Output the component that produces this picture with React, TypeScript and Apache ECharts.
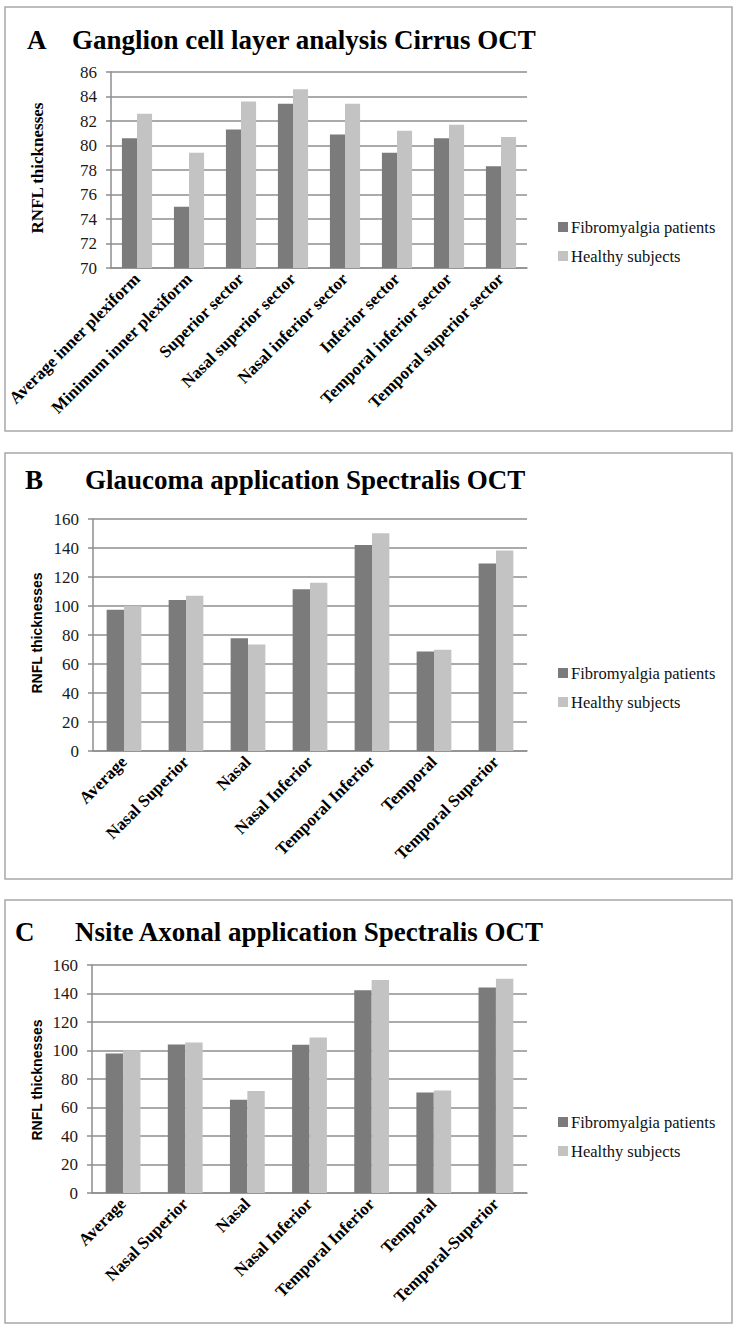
import React, { useEffect, useRef } from "react";
import * as echarts from "echarts";

const catsA = [
  "Average inner plexiform",
  "Minimum inner plexiform",
  "Superior sector",
  "Nasal superior sector",
  "Nasal inferior sector",
  "Inferior sector",
  "Temporal inferior sector",
  "Temporal superior sector",
];
const fibroA = [80.6, 75.0, 81.3, 83.4, 80.9, 79.4, 80.6, 78.3];
const healthyA = [82.6, 79.4, 83.6, 84.6, 83.4, 81.2, 81.7, 80.7];

const catsB = ["Average", "Nasal Superior", "Nasal", "Nasal Inferior", "Temporal Inferior", "Temporal", "Temporal Superior"];
const fibroB = [97.5, 104.2, 77.7, 111.5, 142.1, 68.7, 129.3];
const healthyB = [100.0, 107.1, 73.4, 116.1, 150.1, 69.9, 138.3];

const catsC = ["Average", "Nasal Superior", "Nasal", "Nasal Inferior", "Temporal Inferior", "Temporal", "Temporal-Superior"];
const fibroC = [97.9, 104.2, 65.4, 104.0, 142.3, 70.5, 144.2];
const healthyC = [100.2, 105.6, 71.5, 109.1, 149.4, 71.9, 150.3];

const seriesNames = ["Fibromyalgia patients", "Healthy subjects"];
const titles = [
  "Ganglion cell layer analysis Cirrus OCT",
  "Glaucoma application Spectralis OCT",
  "Nsite Axonal application Spectralis OCT",
];
const letters = ["A", "B", "C"];
const yTitle = "RNFL thicknesses";

const SERIF = "Liberation Serif";
const SANS = "Liberation Sans";
const DARK = "#7b7b7b";
const LIGHT = "#c3c3c3";
const GRIDC = "#8e8e8e";

export default function App() {
  const ref = useRef<HTMLDivElement>(null);
  useEffect(() => {
    document.body.style.margin = "0";
    const chart = echarts.init(ref.current!, null, { renderer: "svg" });

    const grids = [
      { left: 111, top: 72, width: 416, height: 196 },
      { left: 93, top: 519, width: 434, height: 232 },
      { left: 92, top: 965, width: 435, height: 228 },
    ];
    const cats = [catsA, catsB, catsC];
    const fibro = [fibroA, fibroB, fibroC];
    const healthy = [healthyA, healthyB, healthyC];
    const yRanges = [
      { min: 70, max: 86, interval: 2 },
      { min: 0, max: 160, interval: 20 },
      { min: 0, max: 160, interval: 20 },
    ];
    const legendTops = [213, 659, 1108];
    const titleY = [40, 480, 932];
    const letterX = [27, 25, 15];
    const titleX = [72, 85, 75];
    const borders = [
      [5, 7, 732, 431],
      [5, 453, 732, 879],
      [5, 900, 732, 1323],
    ];
    const yTitleCenters = [168, 633, 1080];
    const catGaps = ["42%", "44%", "44%"];

    const graphic: any[] = [];
    borders.forEach(([x1, y1, x2, y2]) => {
      graphic.push({
        type: "rect",
        shape: { x: x1, y: y1, width: x2 - x1, height: y2 - y1 },
        style: { fill: "none", stroke: "#a8a8a8", lineWidth: 1.5 },
        silent: true,
      });
    });
    for (let i = 0; i < 3; i++) {
      graphic.push({
        type: "text",
        x: letterX[i],
        y: titleY[i],
        style: { text: letters[i], fontFamily: SERIF, fontWeight: "bold", fontSize: 27, fill: "#000", verticalAlign: "middle" },
      });
      graphic.push({
        type: "text",
        x: titleX[i],
        y: titleY[i],
        style: { text: titles[i], fontFamily: SERIF, fontWeight: "bold", fontSize: 27, fill: "#000", verticalAlign: "middle" },
      });
      graphic.push({
        type: "text",
        x: 37,
        y: yTitleCenters[i],
        rotation: Math.PI / 2,
        style: {
          text: yTitle,
          fontFamily: i === 0 ? SERIF : SANS,
          fontWeight: "bold",
          fontSize: i === 0 ? 17 : 14,
          fill: "#000",
          align: "center",
          verticalAlign: "middle",
        },
      });
    }

    const option: any = {
      animation: false,
      backgroundColor: "#fff",
      textStyle: { fontFamily: SERIF },
      grid: grids.map((g) => ({ ...g, containLabel: false })),
      xAxis: cats.map((c, i) => ({
        type: "category",
        gridIndex: i,
        data: c,
        axisLine: { show: true, lineStyle: { color: GRIDC, width: 1.5 } },
        axisTick: { show: false },
        axisLabel: {
          interval: 0,
          rotate: 45,
          margin: 8,
          fontFamily: SERIF,
          fontWeight: "bold",
          fontSize: 17,
          color: "#000",
        },
        splitLine: { show: false },
      })),
      yAxis: yRanges.map((r, i) => ({
        type: "value",
        gridIndex: i,
        min: r.min,
        max: r.max,
        interval: r.interval,
        axisLine: { show: true, lineStyle: { color: GRIDC, width: 1.5 } },
        axisTick: { show: true, length: 5, lineStyle: { color: GRIDC, width: 1.5 } },
        axisLabel: { margin: 14, fontFamily: SERIF, fontSize: 17, color: "#1a1a1a" },
        splitLine: { show: true, lineStyle: { color: GRIDC, width: 1.5 } },
      })),
      legend: legendTops.map((t) => ({
        orient: "vertical",
        left: 553,
        top: t,
        itemWidth: 10,
        itemHeight: 10,
        itemGap: 11,
        icon: "rect",
        data: seriesNames.map((n) => ({ name: n })),
        textStyle: { fontFamily: SERIF, fontSize: 16.5, color: "#111", padding: [0, 0, 0, -2], lineHeight: 18 },
      })),
      series: [] as any[],
      graphic,
    };
    for (let i = 0; i < 3; i++) {
      option.series.push({
        type: "bar",
        name: seriesNames[0],
        xAxisIndex: i,
        yAxisIndex: i,
        data: fibro[i],
        itemStyle: { color: DARK },
        barGap: "0%",
        barCategoryGap: catGaps[i],
      });
      option.series.push({
        type: "bar",
        name: seriesNames[1],
        xAxisIndex: i,
        yAxisIndex: i,
        data: healthy[i],
        itemStyle: { color: LIGHT },
        barGap: "0%",
        barCategoryGap: catGaps[i],
      });
    }
    chart.setOption(option);
    return () => chart.dispose();
  }, []);
  return <div ref={ref} style={{ width: 740, height: 1332 }} />;
}
